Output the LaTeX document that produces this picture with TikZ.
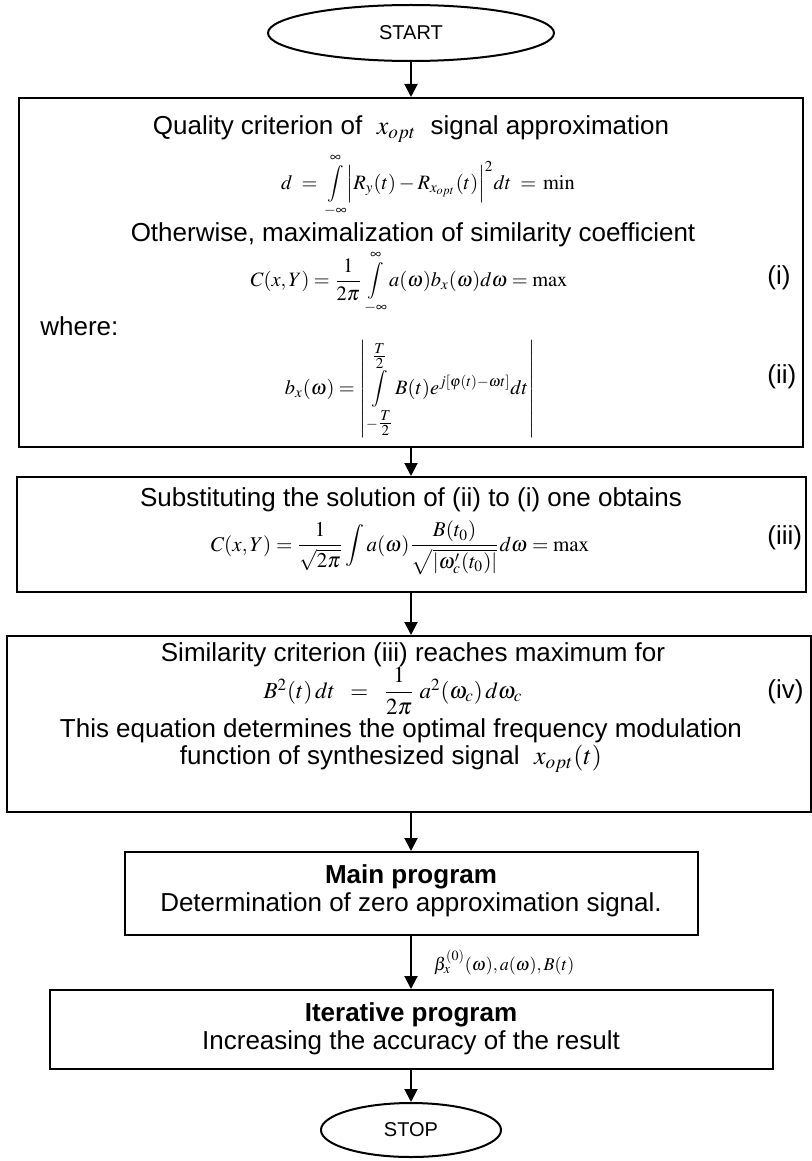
\documentclass[tikz,border=0pt]{standalone}
\usepackage{amsmath}
\usepackage{graphicx}
\usepackage{mathptmx}
\usepackage[no-math]{fontspec}
\setmainfont{Liberation Sans}
\usetikzlibrary{shapes.geometric, arrows.meta}
\newcommand{\medint}{\mathop{\vcenter{\hbox{\scalebox{0.9}{$\displaystyle\int$}}}}\limits}

\begin{document}
\begin{tikzpicture}[x=0.5pt, y=-0.5pt,
    term/.style={draw, ellipse, line width=1pt, inner sep=0pt, font=\fontsize{10}{12}\selectfont},
    block/.style={draw, line width=1pt, inner sep=0pt},
    txt/.style={font=\fontsize{13}{15}\selectfont, inner sep=0pt},
    bold/.style={txt, font=\fontsize{13}{15}\selectfont\bfseries},
    eq/.style={font=\fontsize{10.2}{12}\selectfont, inner sep=0pt},
    tag/.style={txt, anchor=west},
    arrow/.style={-{Triangle[length=6.5pt, width=6.5pt]}, line width=1pt},
    lbl/.style={font=\fontsize{9}{11}\selectfont, inner sep=0pt, anchor=west}
  ]
  \useasboundingbox (0,0) rectangle (812,1161);

  % Terminals
  \node (start) [term, minimum width=143pt, minimum height=28pt] at (411, 33) {START};
  \node (stop) [term, minimum width=90pt, minimum height=27pt] at (411, 1130) {STOP};

  % Boxes
  \node (box1) [block, minimum width=392pt, minimum height=174.5pt] at (411, 272.5) {};
  \node (box2) [block, minimum width=394.5pt, minimum height=57.5pt] at (411, 534.5) {};
  \node (box3) [block, minimum width=402pt, minimum height=88pt] at (409, 724) {};
  \node (box4) [block, minimum width=286.5pt, minimum height=41.5pt] at (411, 893.5) {};
  \node (box5) [block, minimum width=361.5pt, minimum height=39.5pt] at (411, 1029.5) {};

  % Box 1
  \node (qual) [txt] at (411, 129) {Quality criterion of \;$x_{opt}$\; signal approximation};
  \node (eqd) [eq] at (428, 186) {$d \;=\, \medint_{-\infty}^{\infty} \Bigl| R_y(t) - R_{x_{opt}}(t) \Bigr|^2 dt \;=\, \min$};
  \node (other) [txt] at (413, 235) {Otherwise, maximalization of similarity coefficient};
  \node (eqc) [eq] at (409, 283) {$C(x, Y) = \dfrac{1}{2\pi}\medint_{-\infty}^{\infty} a(\omega) b_x(\omega) d\omega = \max$};
  \node (tagi) [tag] at (767, 278) {(i)};
  \node (where) [txt, anchor=west] at (40, 326) {where:};
  \node (eqb) [eq] at (410, 389) {$b_x(\omega) = \left| \medint_{-\tfrac{T}{2}}^{\tfrac{T}{2}} B(t) e^{j[\varphi(t) - \omega t]} dt \right|$};
  \node (tagii) [tag] at (767, 377) {(ii)};

  % Box 2
  \node (subst) [txt] at (411, 500) {Substituting the solution of (ii) to (i) one obtains};
  \node (eqc2) [eq, font=\fontsize{10.5}{12}\selectfont] at (400, 548) {$C(x, Y) = \dfrac{1}{\sqrt{2\pi}} \displaystyle\int a(\omega) \frac{B(t_0)}{\sqrt{\left|\omega_c'(t_0)\right|}} d\omega = \max$};
  \node (tagiii) [tag] at (767, 538) {(iii)};

  % Box 3
  \node (simil) [txt] at (413, 655) {Similarity criterion (iii) reaches maximum for};
  \node (eqb2) [eq, font=\fontsize{11.5}{13}\selectfont] at (393, 691) {$B^2(t)\,dt \;\;=\;\; \dfrac{1}{2\pi}\; a^2(\omega_c)\,d\omega_c$};
  \node (tagiv) [tag] at (767, 692) {(iv)};
  \node (this) [txt] at (401, 731) {This equation determines the optimal frequency modulation};
  \node (func) [txt] at (391, 759) {function of synthesized signal \;$x_{opt}(t)$};

  % Box 4 and 5
  \node (mainttl) [bold] at (411, 877) {Main program};
  \node (maindesc) [txt] at (411, 905) {Determination of zero approximation signal.};
  \node (iterttl) [bold] at (411, 1015) {Iterative program};
  \node (iterdesc) [txt] at (411, 1043) {Increasing the accuracy of the result};

  % Arrows
  \draw [arrow] (start) -- (box1);
  \draw [arrow] (box1) -- (box2);
  \draw [arrow] (box2.south) -- (box2.south |- box3.north);
  \draw [arrow] (box4.north |- box3.south) -- (box4);
  \draw [arrow] (box4) -- node[lbl, right=11pt] {$\beta_x^{(0)}(\omega), a(\omega), B(t)$} (box5);
  \draw [arrow] (box5) -- (stop);
\end{tikzpicture}
\end{document}
